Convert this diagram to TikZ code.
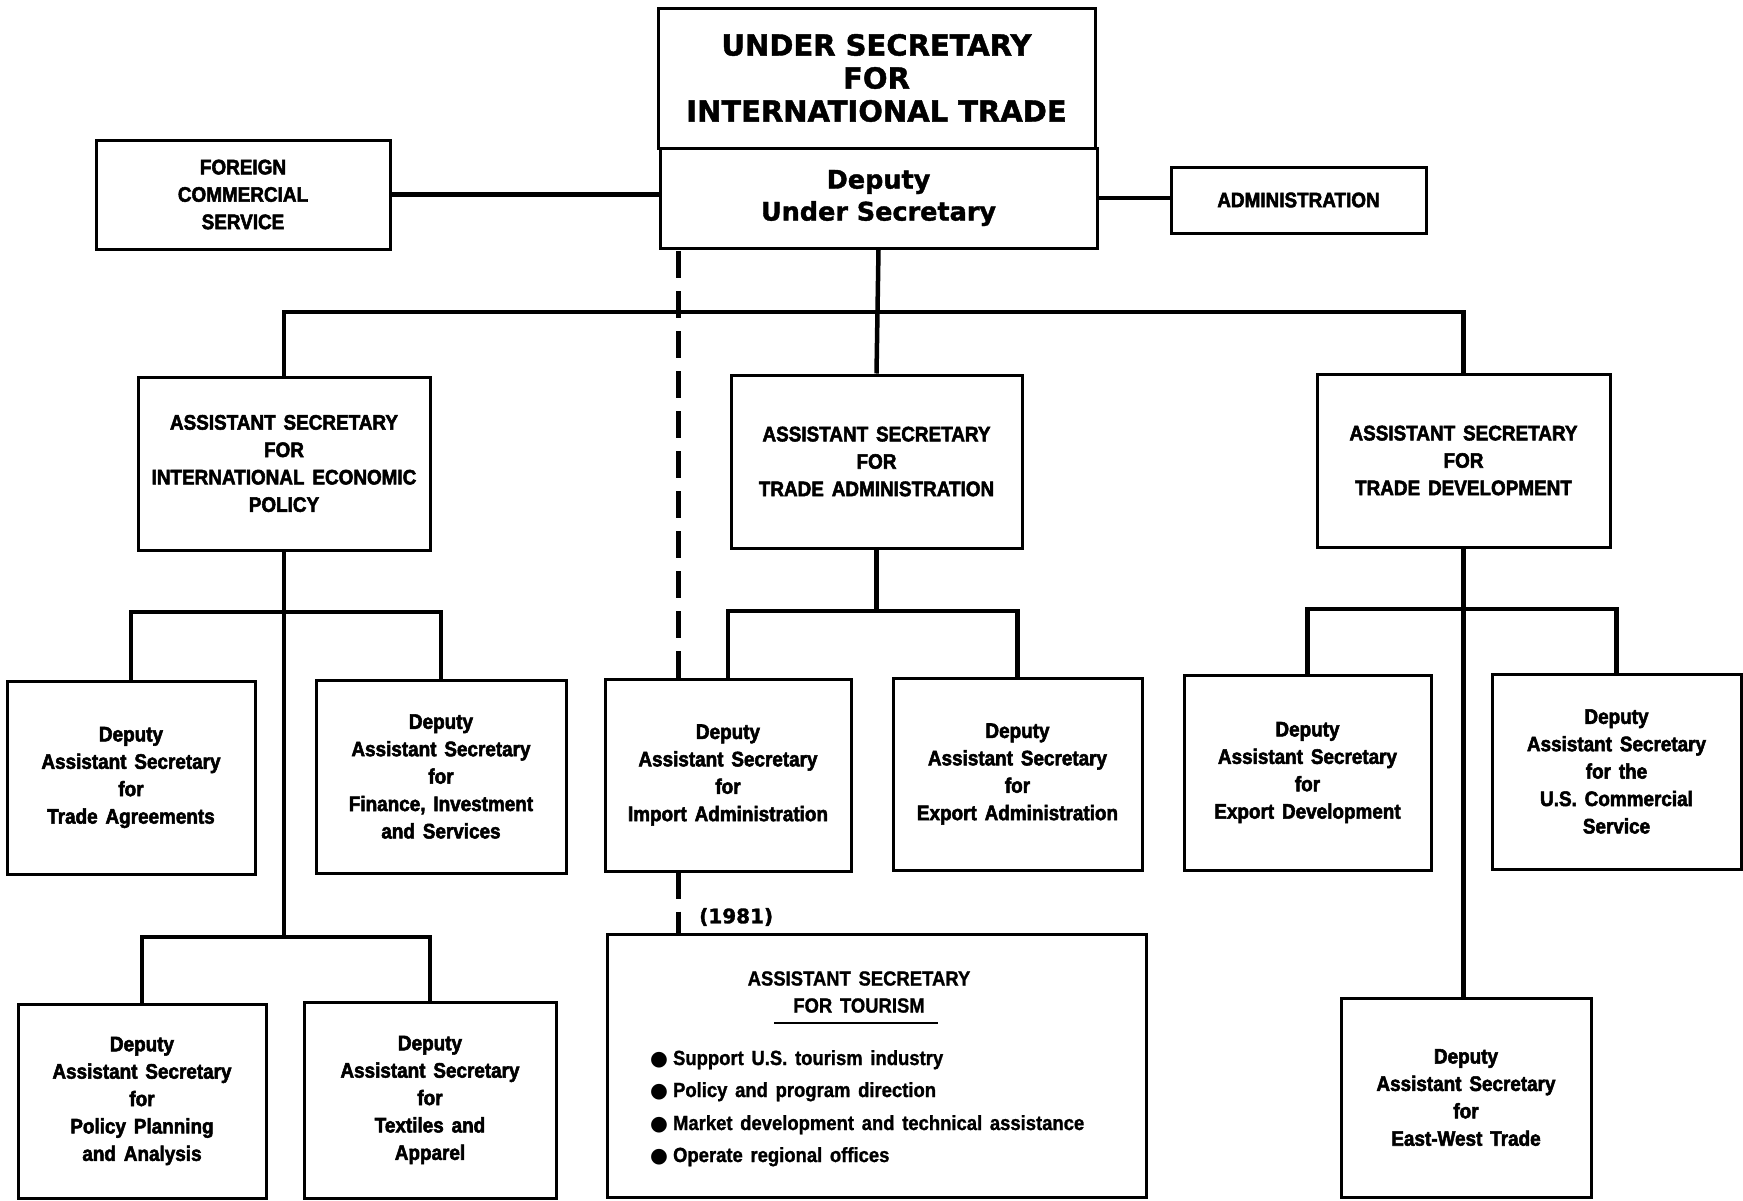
\documentclass[tikz,border=0pt]{standalone}
\usepackage{fontspec}
\setmainfont{Liberation Sans}
\newfontfamily\condfont[FakeStretch=0.9,WordSpace=1.5,FakeBold=2.5]{Liberation Sans Bold}
\newfontfamily\listfont[FakeStretch=0.9,WordSpace=1.5,FakeBold=1.2]{Liberation Sans Bold}
\newfontfamily\widefont[FakeBold=1.5]{DejaVu Sans Bold}
\newfontfamily\symfont{DejaVu Sans}

\tikzset{
  unitbox/.style={draw, line width=3pt, inner sep=0pt, align=center,
    font=\condfont\fontsize{21}{27.4}\selectfont},
  headbox/.style={unitbox, font=\widefont\fontsize{29}{33}\selectfont},
  deputybox/.style={unitbox, font=\widefont\fontsize{25.5}{32}\selectfont},
  link/.style={line width=4.5pt},
  dashlink/.style={line width=5pt, dash pattern=on 27pt off 13pt},
  listtext/.style={inner sep=0pt, anchor=base west,
    font=\listfont\fontsize{20.5}{27}\selectfont},
}

% box given by its corners (x1,y1) and (x2,y2), y measured downwards
\newcommand\orgbox[7][unitbox]{%
  \node[#1, minimum width={#5-#3}, minimum height={#6-#4}]
    (#2) at ({(#3+#5)/2},{(#4+#6)/2}) {#7};}

\begin{document}
\begin{tikzpicture}[x=1pt, y=-1pt]
\useasboundingbox (0,0) rectangle (1743,1200);

% top of the chart
\orgbox[headbox]{top}{658}{8}{1095}{148}{UNDER SECRETARY\\FOR\\INTERNATIONAL TRADE}
\orgbox[deputybox]{dep}{660}{148}{1097}{248}{Deputy\\Under Secretary}
\orgbox{fcs}{96}{140}{390}{249}{FOREIGN\\COMMERCIAL\\SERVICE}
\orgbox{adm}{1171}{167}{1426}{233}{ADMINISTRATION}

% assistant secretaries
\orgbox{iep}{138}{377}{430}{550}{ASSISTANT SECRETARY\\FOR\\INTERNATIONAL ECONOMIC\\POLICY}
\orgbox{ta}{731}{375}{1022}{548}{ASSISTANT SECRETARY\\FOR\\TRADE ADMINISTRATION}
\orgbox{td}{1317}{374}{1610}{547}{ASSISTANT SECRETARY\\FOR\\TRADE DEVELOPMENT}

% deputy assistant secretaries
\orgbox{tag}{7}{681}{255}{874}{Deputy\\Assistant Secretary\\for\\Trade Agreements}
\orgbox{fis}{316}{680}{566}{873}{Deputy\\Assistant Secretary\\for\\Finance, Investment\\and Services}
\orgbox{ppa}{18}{1004}{266}{1198}{Deputy\\Assistant Secretary\\for\\Policy Planning\\and Analysis}
\orgbox{txa}{304}{1002}{556}{1198}{Deputy\\Assistant Secretary\\for\\Textiles and\\Apparel}
\orgbox{imp}{605}{679}{851}{871}{Deputy\\Assistant Secretary\\for\\Import Administration}
\orgbox{exa}{893}{678}{1142}{870}{Deputy\\Assistant Secretary\\for\\Export Administration}
\orgbox{exd}{1184}{675}{1431}{870}{Deputy\\Assistant Secretary\\for\\Export Development}
\orgbox{uscs}{1492}{674}{1741}{869}{Deputy\\Assistant Secretary\\for the\\U.S. Commercial\\Service}
\orgbox{ew}{1341}{998}{1591}{1197}{Deputy\\Assistant Secretary\\for\\East-West Trade}

% tourism
\orgbox{tour}{607}{934}{1146}{1197}{}
\node[inner sep=0pt, align=center, font=\listfont\fontsize{20.5}{27}\selectfont]
  (tourtitle) at (859,992) {ASSISTANT SECRETARY\\FOR TOURISM};
\draw[line width=2pt] ([xshift=-85pt, yshift=-31pt]tourtitle.center) -- ([xshift=79pt, yshift=-31pt]tourtitle.center);
\node[listtext] (b1) at (650,1065) {{\symfont●}\hspace{5pt}Support U.S. tourism industry};
\node[listtext] (b2) at (650,1097) {{\symfont●}\hspace{5pt}Policy and program direction};
\node[listtext] (b3) at (650,1130) {{\symfont●}\hspace{5pt}Market development and technical assistance};
\node[listtext] (b4) at (650,1162) {{\symfont●}\hspace{5pt}Operate regional offices};
\node[inner sep=0pt, anchor=west, font=\widefont\fontsize{20}{24}\selectfont]
  (yr) at (699,917) {(1981)};

% connectors
\coordinate (bus) at (0,312);
\coordinate (subl) at (0,612);
\coordinate (subll) at (0,937);
\coordinate (subm) at (0,611);
\coordinate (subr) at (0,609);
\coordinate (dtop) at (678,248);

\draw[link] (fcs.east) -- (fcs.east -| dep.west);
\draw[link] (dep.east) -- (dep.east -| adm.west);
\draw[link] (dep.south) -- (ta.north);
\draw[link] (iep.north) |- (td.north |- bus) -- (td.north);

\draw[link] (iep.south) -- (iep.south |- subll);
\draw[link] (tag.north) |- (fis.north |- subl) -- (fis.north);
\draw[link] (ppa.north) |- (txa.north |- subll) -- (txa.north);

\draw[link] (ta.south) -- (ta.south |- subm);
\draw[link] (imp.north) |- (exa.north |- subm) -- (exa.north);

\draw[link] (td.south) -- (td.south |- ew.north);
\draw[link] (exd.north) |- (uscs.north |- subr) -- (uscs.north);

\draw[dashlink, dash phase=37pt] (dtop) -- (dtop |- imp.north);
\draw[line width=5pt, dash pattern=on 26pt off 13pt] (imp.south -| dtop) -- (tour.north -| dtop);
\end{tikzpicture}
\end{document}
